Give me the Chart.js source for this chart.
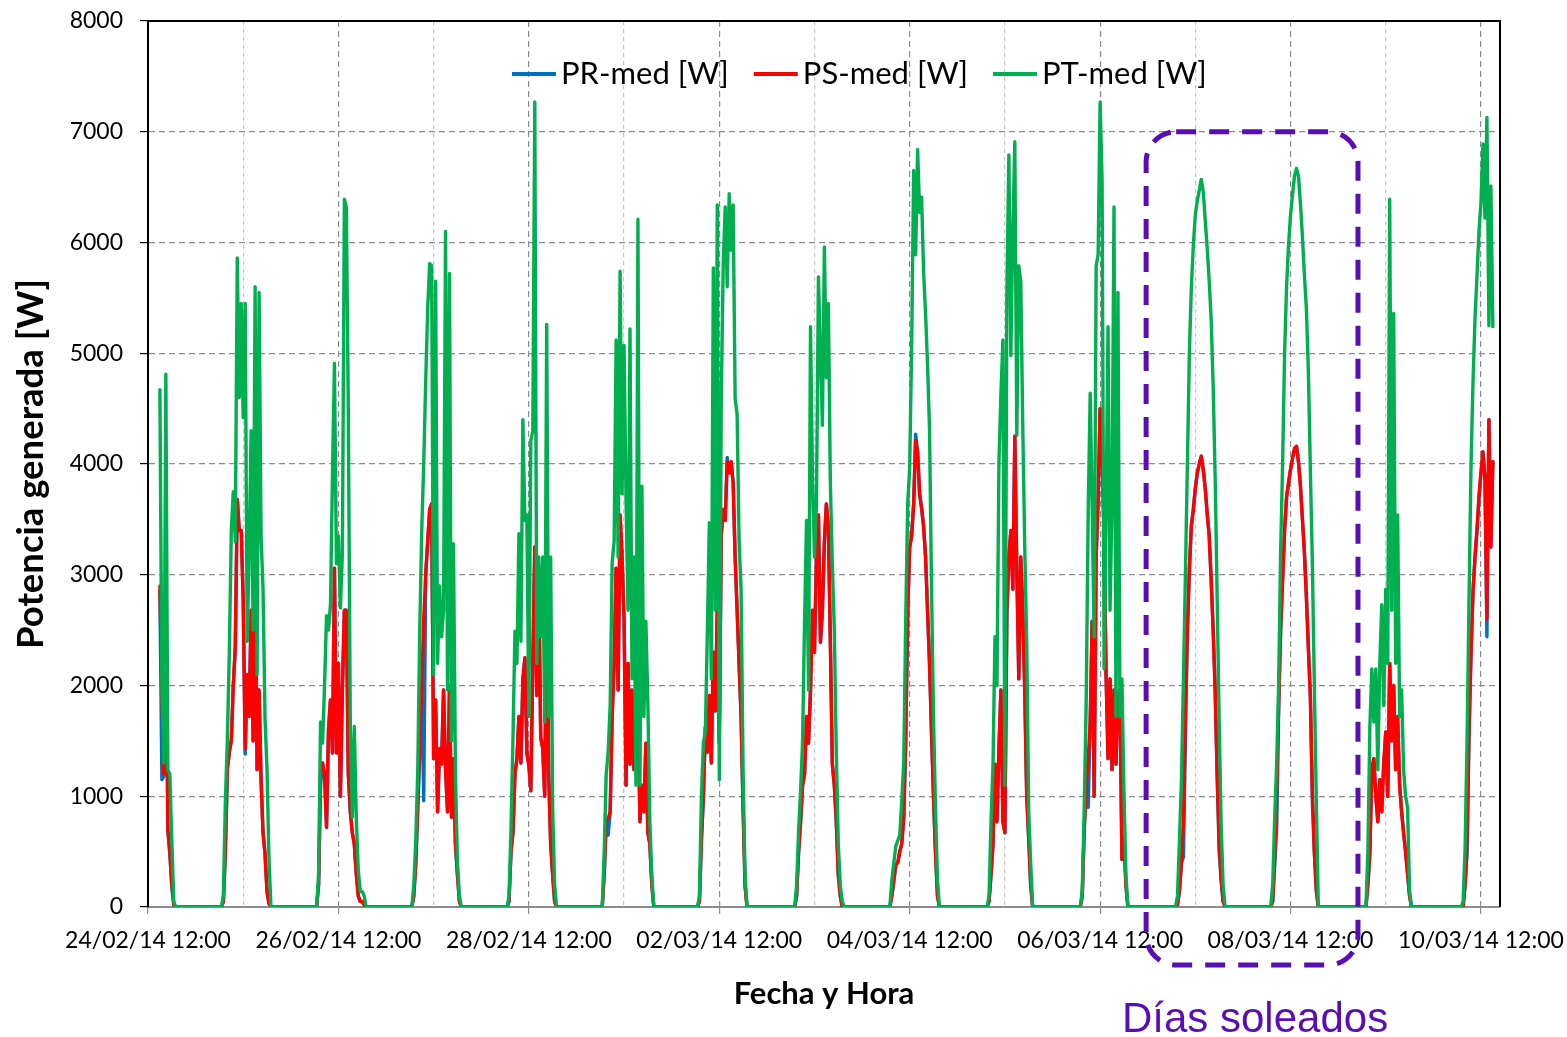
<!DOCTYPE html>
<html>
<head>
<meta charset="utf-8">
<script src="https://cdn.jsdelivr.net/npm/chart.js@4.4.1/dist/chart.umd.min.js"></script>
<style>
html,body{margin:0;padding:0;background:#fff;}
#wrap{width:1567px;height:1037px;position:relative;}
</style>
</head>
<body>
<div id="wrap"><canvas id="c" width="1567" height="1037"></canvas></div>
<script>
// ---- DATA ----
// Day index 0 = 24/02/14. Samples every 30 min; hour of day of first sample per day.
const DAY_LABELS = ['24/02/14','25/02/14','26/02/14','27/02/14','28/02/14','01/03/14','02/03/14','03/03/14','04/03/14','05/03/14','06/03/14','07/03/14','08/03/14','09/03/14','10/03/14'];
const FIRST_SAMPLE_H = [15,6,6,6,6,6,6,6,6,6,6,6,6,6,6];
const STEP_H = 0.5;

const X_TICK_LABELS = ['24/02/14 12:00','','26/02/14 12:00','','28/02/14 12:00','','02/03/14 12:00','','04/03/14 12:00','','06/03/14 12:00','','08/03/14 12:00','','10/03/14 12:00'];
const Y_TICKS = [0,1000,2000,3000,4000,5000,6000,7000,8000];

// PR-med [W]
const PR_W = [
 [2850,1150,1180,3000,690,480,190,20,0,0,0],
 [0,0,50,500,1240,1400,1500,2000,2340,3680,3400,3400,2770,1380,2100,1720,2680,1500,3490,1240,1960,1150,670,480,140,30,0,0,0],
 [0,0,200,1100,1300,1200,720,1600,1870,1390,3060,1390,2200,1000,1960,2680,2680,1200,860,670,570,300,100,50,50,20,0,0,0],
 [0,0,100,400,900,1400,2000,960,3000,3300,3590,3640,1340,1870,860,1430,1290,1960,1240,860,2000,810,1340,570,290,50,0,0,0],
 [0,0,50,500,670,1200,1340,1720,1300,2060,2250,1390,1280,1050,2200,3250,1910,2920,1530,1430,1000,3060,1200,570,290,50,0,0,0],
 [0,0,300,770,650,860,1720,2200,3060,1960,3540,3160,2600,1100,2200,1290,1960,1240,1720,1900,770,1100,860,1480,670,570,200,0,0],
 [0,0,50,600,1000,1630,1400,1910,1300,2300,1770,2680,1480,3350,3590,3490,4060,3920,4020,3830,3160,2680,2200,1720,900,190,0,0,0],
 [0,0,0,100,500,770,1100,1200,1720,1480,1960,2680,2300,3160,3540,2390,2680,3300,3640,3440,2400,1290,1100,770,290,100,0,0,0],
 [0,0,0,100,240,380,400,500,570,810,1500,2680,3250,3350,3640,4270,4110,3730,3600,3440,3160,2680,2200,1580,1000,500,100,0,0],
 [0,0,0,0,50,290,570,1290,770,1430,1960,770,670,2680,3160,3400,2870,4250,3060,2060,3160,2680,1960,1000,620,200,0,0,0],
 [0,0,0,100,700,1100,900,1670,2580,1000,3160,3680,4500,4110,3350,2100,1340,2060,1240,1960,1290,1900,1960,430,620,200,0,0,0],
 [0,0,0,20,150,400,450,1500,2500,3050,3440,3590,3780,3920,4000,4070,3950,3780,3550,3350,2950,2500,1960,1200,500,250,50,0,0],
 [0,0,0,50,400,700,1800,2500,2950,3400,3700,3830,3950,4050,4140,4160,4020,3800,3500,3200,2800,2340,1900,950,500,150,0,0,0],
 [0,0,0,200,500,1240,1340,1000,770,1150,860,1300,1580,1000,2200,1500,2000,1240,1720,1100,860,670,500,300,100,0,0,0,0],
 [0,0,0,0,200,480,1600,2300,2850,3160,3400,3700,3920,4110,3880,2440,4400,3250,4020]
];

// PS-med [W]
const PS_W = [
 [2900,1960,1200,3100,700,500,200,20,0,0,0],
 [0,0,50,500,1240,1400,1500,2000,2340,3680,3400,3400,2770,1430,2100,1720,2680,1500,3490,1240,1960,1150,670,480,140,30,0,0,0],
 [0,0,200,1240,1300,1200,720,1600,1870,1390,3060,1390,2200,1000,1960,2680,2680,1200,860,670,570,300,100,50,50,20,0,0,0],
 [0,0,100,400,900,1500,2000,2600,3000,3300,3590,3640,1340,1870,860,1430,1290,1960,1240,860,2000,810,1340,570,290,50,0,0,0],
 [0,0,50,500,670,1200,1340,1720,1300,2060,2250,1390,1280,1050,2200,3250,1910,2920,1530,1430,1000,3060,1200,570,290,50,0,0,0],
 [0,0,300,770,800,860,1720,2200,3060,1960,3540,3160,2600,1100,2200,1290,1960,1240,1720,1900,770,1100,860,1480,670,570,200,0,0],
 [0,0,50,600,1000,1630,1400,1910,1300,2300,1770,2680,1480,3350,3590,3490,4020,3920,4020,3830,3160,2680,2200,1720,900,190,0,0,0],
 [0,0,0,100,500,770,1100,1200,1720,1480,1960,2680,2300,3160,3540,2390,2680,3300,3640,3440,2400,1290,1100,770,290,100,0,0,0],
 [0,0,0,100,240,380,400,500,570,810,1500,2680,3250,3350,3640,4210,4110,3730,3600,3440,3160,2680,2200,1580,1000,500,100,0,0],
 [0,0,0,0,50,290,570,1290,770,1430,1960,770,670,2680,3160,3400,2870,4250,3060,2060,3160,2680,1960,1000,620,200,0,0,0],
 [0,0,0,100,700,1100,1340,1670,2580,1000,3160,3680,4500,4110,3350,2100,1340,2060,1240,1960,1290,1900,1960,430,620,200,0,0,0],
 [0,0,0,20,150,400,770,1800,2500,3050,3440,3590,3780,3920,4000,4070,3950,3780,3550,3350,2950,2500,1960,1200,600,250,50,0,0],
 [0,0,0,50,400,1000,1800,2500,2950,3400,3700,3830,3950,4050,4140,4160,4020,3800,3500,3200,2800,2340,1900,1050,500,150,0,0,0],
 [0,0,0,200,500,1240,1340,1000,770,1150,860,1300,1580,1000,2200,1500,2000,1240,1720,1100,860,670,500,300,100,0,0,0,0],
 [0,0,0,0,200,600,1600,2300,2850,3160,3400,3700,3920,4110,3880,2600,4400,3250,4020]
];

// PT-med [W]
const PT_W = [
 [4670,1950,1300,4810,1240,1200,600,50,0,0,0],
 [0,0,100,960,1500,2300,3400,3750,3300,5860,4600,5450,4420,5450,2400,3200,4300,2500,5600,2100,5550,3350,2870,1700,1240,430,0,0,0],
 [0,0,300,1670,1480,2000,2630,2500,2730,3900,4910,3100,3350,2700,3200,6390,6320,4450,1600,810,1630,810,330,140,140,100,0,0,0],
 [0,0,200,600,1240,2500,3400,4000,4750,5400,5810,5790,2100,5650,2200,2900,2440,2680,6100,1960,5720,1500,3280,1200,400,100,0,0,0],
 [0,0,100,700,1530,2490,2200,3370,2400,4400,3490,3540,1720,4210,4300,7270,2200,3160,2440,3160,1670,5260,1720,3160,900,200,0,0,0],
 [0,0,500,1200,1400,1820,3110,3300,5120,3160,5740,3730,5070,3680,2680,5220,2060,3160,1100,6210,1100,3800,1720,2580,1840,770,290,0,0],
 [0,0,100,1000,1480,1580,2490,3470,2060,5770,2680,6340,1150,4590,5810,6320,5600,6440,5930,6340,4590,4450,3300,2870,1240,290,0,0,0],
 [0,0,0,200,700,1050,1500,2580,3490,1960,5240,3880,3160,3640,5690,4980,4350,5960,4780,5450,3830,3100,2500,1400,570,200,50,0,0],
 [0,0,0,240,400,550,600,650,960,1300,2600,3640,3970,5070,6650,5890,6840,6270,6410,5740,5360,4900,4310,2900,1720,900,250,0,0],
 [0,0,0,0,100,770,1290,2440,2000,4020,4640,5120,1100,5550,6790,4980,6100,6910,4260,5790,5650,4350,3250,2390,860,400,0,0,0],
 [0,0,0,150,900,1870,3590,4640,3590,2440,5790,5890,7270,6560,2150,3590,5240,2680,3640,6320,1720,5550,1720,2060,1050,300,0,0,0],
 [0,0,0,100,600,1150,2060,3000,4000,5000,5600,5980,6250,6380,6470,6570,6460,6200,5950,5650,5300,4700,3880,2800,1700,750,200,0,0],
 [0,0,0,200,800,1300,2000,3200,4000,5000,5600,5980,6250,6430,6600,6670,6600,6350,6050,5700,5400,4830,3950,3100,2000,950,0,0,0],
 [0,0,0,500,1630,2150,1670,2150,1240,2200,2730,1820,2870,2200,6390,2680,5360,2200,3540,1720,1960,1240,1000,900,150,0,0,0,0],
 [0,0,0,50,530,1500,2800,4000,4750,5310,5700,6100,6360,6890,6220,7130,5250,6510,5240]
];

// Axis range (hours since 24/02/14 00:00) and the "sunny days" frame
const X_MIN_H = 12;
const X_MAX_H = 352.8;
const SUNNY_FROM_H = 263.6;
const SUNNY_TO_H = 317.0;
const SUNNY_TOP_W = 7000;

// ---- BUILD ----
function toPoints(series){
  const pts = [];
  series.forEach((day, d) => {
    day.forEach((v, i) => pts.push({x: 24*d + FIRST_SAMPLE_H[d] + i*STEP_H, y: v}));
  });
  return pts;
}

const FONT = 'Lato, "Open Sans", sans-serif';

const framePlugin = {
  id: 'frame',
  afterDatasetsDraw(chart){
    const {ctx, chartArea:a} = chart;
    ctx.save();
    ctx.strokeStyle = '#000';
    ctx.lineWidth = 2;
    ctx.beginPath();
    ctx.moveTo(a.left, a.top); ctx.lineTo(a.right, a.top); ctx.lineTo(a.right, a.bottom);
    ctx.stroke();
    ctx.restore();
  }
};

const legendPlugin = {
  id: 'lineLegend',
  afterDatasetsDraw(chart){
    const {ctx, chartArea:a} = chart;
    ctx.save();
    ctx.font = '31px ' + FONT;
    ctx.textBaseline = 'middle';
    let x = a.left + 364;
    const y = a.top + 53;
    chart.data.datasets.forEach(ds => {
      ctx.strokeStyle = ds.borderColor;
      ctx.lineWidth = 4;
      ctx.setLineDash([]);
      ctx.beginPath(); ctx.moveTo(x, y); ctx.lineTo(x + 44, y); ctx.stroke();
      ctx.fillStyle = '#000';
      ctx.fillText(ds.label, x + 49, y);
      x += 49 + ctx.measureText(ds.label).width + 25;
    });
    ctx.restore();
  }
};

const sunnyPlugin = {
  id: 'sunny',
  afterDraw(chart){
    const {ctx, chartArea:a, scales:{x, y}} = chart;
    const l = x.getPixelForValue(SUNNY_FROM_H), r = x.getPixelForValue(SUNNY_TO_H);
    const t = y.getPixelForValue(SUNNY_TOP_W), b = a.bottom + 58;
    const rad = 30;
    ctx.save();
    ctx.strokeStyle = '#5B0DB5';
    ctx.lineWidth = 5;
    ctx.setLineDash([20, 13]);
    ctx.beginPath();
    ctx.moveTo(l + rad, t);
    ctx.lineTo(r - rad, t);
    ctx.arcTo(r, t, r, t + rad, rad);
    ctx.lineTo(r, b - rad);
    ctx.arcTo(r, b, r - rad, b, rad);
    ctx.lineTo(l + rad, b);
    ctx.arcTo(l, b, l, b - rad, rad);
    ctx.lineTo(l, t + rad);
    ctx.arcTo(l, t, l + rad, t, rad);
    ctx.stroke();
    ctx.setLineDash([]);
    ctx.fillStyle = '#5B0DB5';
    ctx.font = '42px "Liberation Sans", Arial, sans-serif';
    ctx.textAlign = 'center';
    ctx.textBaseline = 'alphabetic';
    ctx.fillText('Días soleados', (l + r) / 2 + 3, chart.height - 5);
    ctx.restore();
  }
};

const mkDs = (label, series, color, order) => ({
  label, data: toPoints(series), borderColor: color, backgroundColor: color,
  borderWidth: 3.4, pointRadius: 0, pointHoverRadius: 0, tension: 0, fill: false,
  borderJoinStyle: 'round', borderCapStyle: 'round', order
});

new Chart(document.getElementById('c').getContext('2d'), {
  type: 'line',
  data: {
    datasets: [
      mkDs('PR-med [W]', PR_W, '#0070C0', 3),
      mkDs('PS-med [W]', PS_W, '#FF0000', 2),
      mkDs('PT-med [W]', PT_W, '#00B050', 1)
    ]
  },
  options: {
    responsive: false,
    animation: false,
    devicePixelRatio: 1,
    layout: {padding: {top: 21, right: 67, bottom: 20, left: 0}},
    plugins: {legend: {display: false}, tooltip: {enabled: false}},
    scales: {
      x: {
        type: 'linear', min: X_MIN_H, max: X_MAX_H,
        afterBuildTicks(s){ s.ticks = X_TICK_LABELS.map((l, i) => ({value: X_MIN_H + 24*i})); },
        afterFit(s){ s.height = 110; s.paddingLeft = 0; s.paddingRight = 0; },
        ticks: {
          autoSkip: false, maxRotation: 0, minRotation: 0, padding: 13,
          color: '#000', font: {family: FONT, size: 23},
          callback: (v, i) => X_TICK_LABELS[i]
        },
        grid: {
          color: c => (c.index % 2 === 0 ? '#8c8c8c' : '#c4c4c4'),
          tickColor: c => (c.index % 2 === 0 ? '#8c8c8c' : 'rgba(0,0,0,0)'),
          tickLength: 7, lineWidth: 1.2
        },
        border: {
          color: '#8c8c8c', width: 2,
          dash: c => (c.tick ? (c.index % 2 === 0 ? [6, 4] : [4, 4]) : [])
        },
        title: {
          display: true, text: 'Fecha y Hora', color: '#000',
          font: {family: FONT, size: 31, weight: 'bold'},
          padding: {top: 0, bottom: 4}
        }
      },
      y: {
        min: 0, max: 8000,
        afterBuildTicks(s){ s.ticks = Y_TICKS.map(v => ({value: v})); },
        afterFit(s){ s.width = 148; s.paddingTop = 0; s.paddingBottom = 0; },
        ticks: {
          color: '#000', font: {family: FONT, size: 23}, padding: 17,
          callback: v => String(v)
        },
        grid: {color: '#8c8c8c', tickColor: '#000', tickLength: 8, lineWidth: 1.2},
        border: {color: '#000', width: 2, dash: c => (c.tick ? [6, 4] : [])},
        title: {
          display: true, text: 'Potencia generada [W]', color: '#000',
          font: {family: FONT, size: 36.5, weight: 'bold'},
          padding: {top: 9, bottom: 0}
        }
      }
    }
  },
  plugins: [framePlugin, legendPlugin, sunnyPlugin]
});
</script>
</body>
</html>
